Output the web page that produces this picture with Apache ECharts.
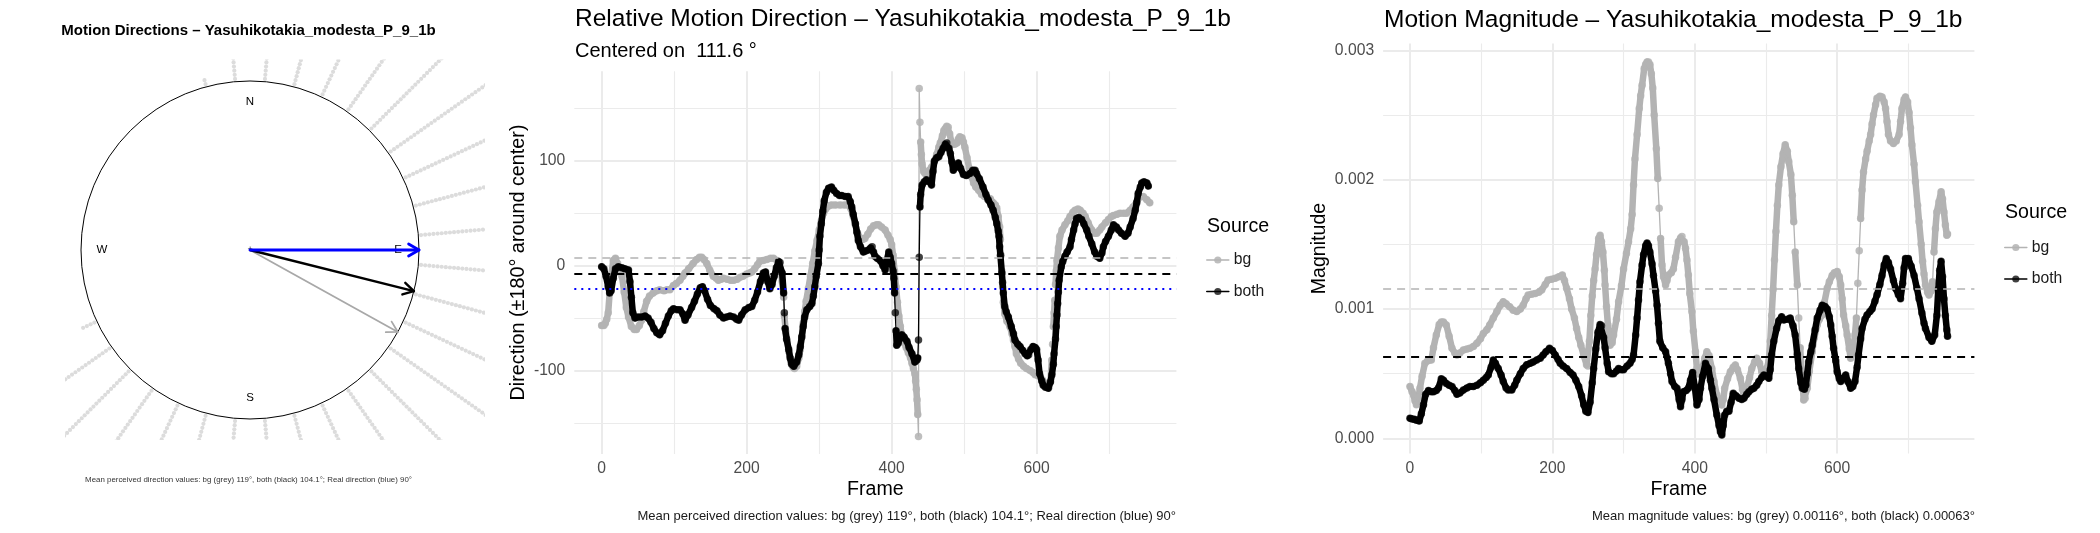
<!DOCTYPE html>
<html><head><meta charset="utf-8">
<script src="https://cdn.jsdelivr.net/npm/echarts@6/dist/echarts.min.js"></script>
<style>html,body{margin:0;padding:0;background:#fff}#c{width:2100px;height:533px}</style>
</head><body><div id="c"></div>
<script>
const FONT = 'Liberation Sans, Arial, Helvetica, sans-serif';
// ================= DATA =================
const speciesName = 'Yasuhikotakia_modesta_P_9_1b';
const meanDirBg = 119, meanDirBoth = 104.1, realDir = 90, centerDir = 111.6;
const meanMagBg = 0.00116, meanMagBoth = 0.00063;
const compassLabels = ['N', 'E', 'S', 'W'];
const compassLabelAngles = [0, 90, 180, 270];
const rayBins = [345,355,5,15,25,35,45,55,65,75,85,95,105,115,125,135,145,155,165,175,185,195,205,215,225,235,245];
const rayCounts = [2,12,20,25,35,40,45,60,70,75,80,70,95,110,85,60,55,75,95,70,45,50,45,35,30,22,4];
const frameTicks = [0, 200, 400, 600];
const frameMinorTicks = [100, 300, 500, 700];
const dirTicks = [-100, 0, 100];
const dirMinorTicks = [-150, -50, 50, 150];
const magTicks = [0, 0.001, 0.002, 0.003];
const magMinorTicks = [0.0005, 0.0015, 0.0025];

const dirBg = [[0,-57],[3,-57],[5,-55],[7,-51],[9,-45],[11,-26],[13,-10],[16,5],[19,7],[22,2],[25,-3],[28,-10],[31,-25],[34,-40],[37,-49],[41,-58],[45,-61],[48,-61],[52,-57],[55,-52],[58,-44],[62,-34],[66,-29],[71,-26],[76,-24],[80,-23],[86,-24],[90,-23],[94,-23],[99,-19],[103,-17],[108,-14],[112,-10],[115,-7],[120,-3],[126,2],[131,6],[135,8],[138,8],[141,6],[145,2],[149,-4],[154,-10],[158,-12],[161,-14],[165,-13],[168,-12],[173,-13],[178,-14],[182,-14],[187,-13],[191,-11],[195,-10],[200,-8],[204,-7],[207,-6],[211,-3],[215,1],[218,4],[223,5],[228,6],[233,7],[237,7],[242,5],[245,2],[247,-5],[249,-15],[251,-30],[252,-48],[254,-63],[256,-72],[258,-82],[261,-92],[264,-97],[266,-98],[269,-96],[272,-88],[274,-80],[276,-68],[278,-55],[280,-44],[282,-34],[285,-22],[288,-10],[291,2],[294,14],[297,24],[300,34],[303,43],[306,50],[309,54],[313,57],[317,58],[322,58],[329,58],[335,58],[340,58],[344,54],[347,47],[350,39],[353,31],[356,27],[360,25],[363,26],[367,30],[371,35],[375,38],[379,39],[382,39],[386,37],[391,34],[395,29],[398,25],[400,20],[402,10],[404,-5],[406,-20],[408,-35],[410,-48],[412,-58],[414,-66],[417,-73],[420,-78],[423,-83],[426,-88],[428,-93],[430,-98],[432,-103],[433,-110],[434,-118],[435,-128],[436,-142],[437,-163],[438,169],[439,137],[440,118],[441,106],[442,97],[444,90],[446,88],[448,88],[452,91],[455,94],[458,98],[462,106],[465,113],[467,117],[470,124],[472,129],[474,131],[476,133],[478,132],[480,126],[482,119],[484,116],[487,116],[490,117],[492,121],[494,123],[497,122],[499,118],[501,113],[504,103],[507,93],[510,85],[513,79],[516,75],[520,72],[524,68],[528,66],[532,65],[536,64],[540,60],[543,58],[545,55],[547,47],[549,37],[550,25],[551,10],[552,-5],[553,-20],[554,-35],[556,-46],[559,-53],[563,-58],[566,-65],[568,-71],[570,-77],[572,-84],[575,-89],[578,-93],[582,-96],[586,-98],[591,-100],[595,-102],[598,-104],[602,-105],[605,-106],[608,-109],[611,-112],[614,-115],[617,-116],[619,-110],[621,-90],[622,-75],[623,-58],[624,-45],[625,-33],[626,-18],[627,-5],[628,5],[630,17],[632,28],[635,34],[639,39],[643,43],[646,47],[650,51],[653,53],[657,54],[660,53],[664,50],[667,47],[671,41],[676,34],[680,31],[683,31],[687,34],[690,37],[695,41],[699,44],[703,47],[706,48],[711,49],[715,50],[720,50],[724,50],[729,53],[733,56],[738,61],[743,66],[747,66],[752,63],[756,60]];

const dirBoth = [[0,-1],[3,-3],[6,-10],[9,-20],[11,-26],[13,-24],[16,-12],[19,-3],[23,-1],[28,-2],[32,-3],[37,-4],[39,-15],[41,-30],[43,-45],[46,-50],[50,-49],[55,-49],[60,-48],[64,-50],[68,-54],[72,-60],[76,-64],[80,-66],[84,-62],[88,-55],[92,-48],[96,-43],[99,-41],[104,-42],[108,-42],[112,-46],[115,-52],[119,-47],[124,-40],[128,-34],[132,-27],[136,-21],[139,-20],[142,-24],[146,-32],[150,-38],[155,-41],[159,-43],[163,-47],[168,-50],[172,-49],[177,-48],[182,-49],[186,-51],[189,-52],[193,-47],[198,-42],[203,-40],[207,-39],[211,-33],[215,-25],[219,-15],[223,-7],[226,-6],[229,-15],[232,-22],[235,-18],[238,-10],[241,-2],[244,4],[246,3],[249,-7],[251,-26],[252,-45],[253,-60],[255,-70],[258,-80],[260,-88],[262,-94],[265,-96],[269,-92],[272,-85],[274,-77],[276,-68],[278,-58],[280,-49],[283,-42],[287,-39],[290,-36],[292,-29],[294,-20],[296,-10],[299,2],[300,15],[301,28],[303,40],[305,52],[307,62],[310,70],[313,74],[317,75],[320,72],[324,69],[328,67],[331,67],[336,66],[340,66],[343,61],[345,56],[347,49],[350,40],[352,32],[354,24],[357,18],[361,13],[364,14],[368,15],[371,17],[373,18],[375,13],[377,9],[380,7],[384,5],[388,0],[391,-4],[393,4],[396,13],[398,8],[400,2],[402,-5],[403,-12],[404,-26],[405,-45],[406,-62],[407,-76],[409,-74],[411,-70],[414,-66],[417,-68],[421,-72],[424,-78],[428,-84],[432,-92],[435,-90],[436,-88],[437,-71],[438,8],[439,56],[440,68],[442,77],[445,80],[448,82],[452,80],[455,77],[457,90],[459,100],[462,103],[465,104],[468,108],[471,112],[474,116],[476,117],[479,112],[481,107],[483,99],[485,91],[488,94],[492,98],[495,93],[499,87],[503,86],[508,88],[512,91],[515,91],[517,88],[521,83],[526,75],[530,68],[533,63],[537,58],[540,53],[543,46],[545,40],[547,33],[548,28],[549,18],[550,10],[552,-7],[553,-16],[554,-26],[556,-39],[558,-44],[561,-49],[565,-58],[568,-65],[570,-71],[574,-75],[577,-77],[581,-81],[584,-84],[587,-86],[589,-85],[592,-80],[595,-77],[598,-78],[600,-80],[602,-90],[604,-103],[607,-110],[609,-114],[612,-116],[616,-117],[619,-111],[621,-104],[623,-94],[624,-84],[626,-70],[627,-58],[628,-47],[629,-36],[630,-25],[631,-14],[634,-1],[636,4],[639,9],[642,13],[646,18],[648,25],[651,34],[653,40],[655,45],[658,46],[662,44],[665,40],[669,34],[672,28],[676,21],[680,13],[683,9],[687,7],[690,12],[692,18],[695,23],[699,28],[703,34],[706,39],[710,37],[713,34],[717,31],[722,28],[726,31],[729,37],[733,45],[736,53],[738,60],[740,69],[743,75],[745,79],[748,80],[752,79],[754,76]];

const magBg = [[0,0.000400],[3,0.000360],[5,0.000335],[7,0.000290],[9,0.000260],[12,0.000320],[14,0.000387],[17,0.000480],[21,0.000580],[25,0.000600],[30,0.000606],[33,0.000700],[37,0.000800],[41,0.000880],[44,0.000900],[47,0.000900],[51,0.000876],[55,0.000790],[59,0.000696],[63,0.000660],[66,0.000644],[70,0.000660],[75,0.000683],[80,0.000690],[84,0.000696],[89,0.000710],[94,0.000735],[99,0.000770],[103,0.000810],[108,0.000840],[112,0.000876],[117,0.000930],[122,0.000980],[127,0.001030],[131,0.001057],[135,0.001040],[140,0.001018],[145,0.000990],[150,0.000980],[155,0.001000],[159,0.001030],[163,0.001080],[166,0.001108],[171,0.001115],[176,0.001120],[181,0.001130],[185,0.001147],[190,0.001190],[194,0.001224],[199,0.001230],[204,0.001237],[209,0.001250],[214,0.001263],[217,0.001220],[220,0.001160],[224,0.001080],[227,0.001000],[231,0.000930],[234,0.000850],[237,0.000780],[240,0.000720],[244,0.000640],[248,0.000570],[250,0.000560],[252,0.000750],[254,0.000950],[256,0.001100],[258,0.001220],[260,0.001310],[262,0.001420],[265,0.001546],[267,0.001570],[269,0.001520],[271,0.001440],[273,0.001300],[274,0.001186],[276,0.001020],[278,0.000876],[281,0.000720],[284,0.000740],[286,0.000800],[290,0.000920],[293,0.001057],[297,0.001180],[300,0.001310],[304,0.001430],[307,0.001520],[310,0.001620],[312,0.001730],[314,0.001960],[316,0.002160],[319,0.002350],[322,0.002550],[324,0.002650],[326,0.002730],[329,0.002860],[331,0.002890],[333,0.002910],[335,0.002910],[337,0.002890],[339,0.002820],[341,0.002710],[343,0.002500],[346,0.002240],[348,0.002010],[350,0.001780],[352,0.001546],[354,0.001340],[356,0.001250],[359,0.001186],[361,0.001220],[363,0.001263],[367,0.001280],[370,0.001310],[373,0.001400],[377,0.001520],[380,0.001550],[382,0.001560],[385,0.001520],[387,0.001470],[389,0.001380],[391,0.001263],[393,0.001120],[396,0.000980],[398,0.000830],[401,0.000670],[403,0.000540],[406,0.000500],[408,0.000490],[411,0.000550],[414,0.000620],[417,0.000670],[420,0.000640],[424,0.000540],[427,0.000440],[431,0.000335],[434,0.000280],[438,0.000258],[440,0.000300],[442,0.000387],[446,0.000460],[450,0.000515],[454,0.000550],[457,0.000567],[460,0.000530],[464,0.000464],[467,0.000380],[469,0.000335],[473,0.000387],[477,0.000470],[480,0.000540],[484,0.000590],[487,0.000620],[491,0.000580],[494,0.000515],[498,0.000520],[501,0.000540],[504,0.000600],[506,0.000750],[508,0.000950],[510,0.001150],[512,0.001380],[514,0.001600],[516,0.001800],[518,0.001960],[521,0.002100],[524,0.002200],[527,0.002270],[530,0.002220],[532,0.002140],[535,0.002040],[537,0.001880],[539,0.001675],[541,0.001440],[544,0.001186],[546,0.000930],[548,0.000700],[551,0.000460],[553,0.000296],[555,0.000310],[558,0.000387],[561,0.000520],[565,0.000670],[568,0.000780],[572,0.000876],[575,0.000920],[579,0.000954],[582,0.001050],[586,0.001160],[589,0.001210],[593,0.001260],[596,0.001280],[600,0.001290],[603,0.001250],[605,0.001186],[607,0.001080],[609,0.000954],[612,0.000870],[614,0.000800],[617,0.000690],[619,0.000620],[621,0.000650],[623,0.000700],[625,0.000800],[627,0.000930],[629,0.001200],[631,0.001450],[633,0.001700],[635,0.001920],[637,0.002060],[640,0.002160],[642,0.002220],[645,0.002300],[647,0.002350],[649,0.002430],[651,0.002500],[654,0.002580],[656,0.002630],[660,0.002645],[663,0.002640],[666,0.002600],[668,0.002550],[670,0.002450],[672,0.002350],[675,0.002300],[679,0.002280],[683,0.002300],[687,0.002350],[689,0.002450],[691,0.002550],[694,0.002620],[696,0.002640],[699,0.002600],[701,0.002520],[703,0.002400],[705,0.002270],[708,0.002120],[710,0.001985],[713,0.001800],[715,0.001675],[718,0.001500],[720,0.001370],[722,0.001270],[724,0.001186],[727,0.001130],[729,0.001108],[732,0.001140],[734,0.001210],[736,0.001440],[738,0.001620],[740,0.001750],[743,0.001830],[746,0.001907],[748,0.001850],[750,0.001750],[752,0.001650],[754,0.001570],[755,0.001580]];

const magBoth = [[0,0.000155],[3,0.000150],[6,0.000148],[9,0.000140],[13,0.000134],[16,0.000190],[19,0.000260],[22,0.000340],[26,0.000370],[30,0.000360],[33,0.000360],[37,0.000370],[40,0.000390],[44,0.000460],[47,0.000450],[51,0.000425],[55,0.000410],[59,0.000400],[63,0.000370],[66,0.000340],[70,0.000350],[75,0.000374],[80,0.000390],[84,0.000400],[89,0.000400],[94,0.000410],[99,0.000430],[103,0.000450],[107,0.000470],[110,0.000490],[114,0.000550],[117,0.000606],[120,0.000580],[124,0.000540],[128,0.000490],[131,0.000440],[135,0.000390],[138,0.000374],[143,0.000374],[147,0.000410],[150,0.000450],[155,0.000500],[159,0.000540],[164,0.000570],[169,0.000580],[173,0.000590],[178,0.000606],[183,0.000620],[187,0.000644],[191,0.000670],[196,0.000696],[200,0.000680],[204,0.000644],[208,0.000610],[211,0.000580],[215,0.000560],[220,0.000540],[225,0.000510],[229,0.000490],[233,0.000450],[237,0.000400],[241,0.000330],[244,0.000260],[247,0.000210],[250,0.000200],[253,0.000280],[256,0.000430],[258,0.000540],[261,0.000690],[264,0.000820],[267,0.000880],[269,0.000870],[272,0.000780],[274,0.000700],[277,0.000580],[279,0.000515],[283,0.000500],[286,0.000500],[290,0.000520],[293,0.000540],[297,0.000530],[300,0.000530],[305,0.000560],[309,0.000580],[312,0.000610],[314,0.000644],[317,0.000800],[319,0.000930],[321,0.001070],[323,0.001210],[326,0.001340],[328,0.001420],[331,0.001490],[333,0.001510],[335,0.001490],[337,0.001440],[340,0.001350],[342,0.001260],[345,0.001140],[347,0.001030],[349,0.000890],[351,0.000750],[355,0.000700],[359,0.000670],[363,0.000580],[366,0.000500],[368,0.000440],[372,0.000400],[375,0.000387],[378,0.000300],[380,0.000245],[382,0.000300],[384,0.000360],[388,0.000370],[391,0.000387],[394,0.000450],[397,0.000510],[400,0.000400],[403,0.000258],[406,0.000300],[408,0.000387],[411,0.000480],[415,0.000580],[419,0.000540],[422,0.000450],[424,0.000387],[427,0.000300],[431,0.000180],[434,0.000100],[436,0.000050],[438,0.000026],[440,0.000100],[442,0.000180],[445,0.000210],[448,0.000210],[451,0.000280],[454,0.000348],[458,0.000330],[462,0.000310],[466,0.000300],[469,0.000310],[473,0.000340],[476,0.000360],[480,0.000380],[483,0.000387],[487,0.000410],[490,0.000440],[494,0.000470],[497,0.000490],[501,0.000480],[504,0.000464],[506,0.000530],[508,0.000644],[511,0.000750],[515,0.000850],[518,0.000910],[522,0.000940],[525,0.000915],[530,0.000920],[534,0.000930],[538,0.000870],[541,0.000800],[544,0.000650],[546,0.000540],[549,0.000430],[551,0.000387],[554,0.000380],[556,0.000410],[558,0.000500],[560,0.000593],[563,0.000670],[565,0.000720],[569,0.000840],[572,0.000930],[576,0.000990],[579,0.001030],[583,0.001020],[586,0.001000],[589,0.000940],[591,0.000876],[593,0.000790],[595,0.000696],[598,0.000600],[600,0.000515],[603,0.000460],[605,0.000440],[608,0.000460],[612,0.000490],[615,0.000440],[619,0.000387],[622,0.000400],[625,0.000440],[628,0.000550],[630,0.000644],[633,0.000770],[635,0.000850],[639,0.000920],[642,0.000954],[646,0.000980],[649,0.001000],[653,0.001060],[656,0.001110],[660,0.001190],[663,0.001260],[666,0.001340],[669,0.001390],[672,0.001360],[675,0.001310],[679,0.001220],[682,0.001160],[686,0.001110],[689,0.001080],[692,0.001200],[694,0.001320],[696,0.001390],[700,0.001390],[704,0.001330],[708,0.001260],[712,0.001160],[715,0.001080],[719,0.000970],[722,0.000890],[724,0.000850],[729,0.000780],[733,0.000750],[737,0.000800],[740,0.000950],[742,0.001150],[744,0.001300],[746,0.001370],[748,0.001250],[750,0.001080],[752,0.000950],[754,0.000840],[755,0.000790]];

// ================= STYLE / LAYOUT =================
const GREY = '#b3b3b3', GREY_PT = 'rgba(179,179,179,0.85)', BLACK = '#000', BLACK_PT = 'rgba(0,0,0,0.75)';
const GRID_C = '#ebebeb';
const arrowColors = ['#a8a8a8', '#000000', '#0000ff'];
const arrowWidths = [1.8, 2.4, 2.8];

function splitSteep(data, thr) {
  const out = [data[0]];
  for (let i = 1; i < data.length; i++) {
    const [x0, y0] = data[i - 1], [x1, y1] = data[i];
    if (Math.abs(y1 - y0) / (x1 - x0) > thr) out.push([(x0 + x1) / 2, '-']);
    out.push(data[i]);
  }
  return out;
}
const DIR_STEEP = 14, MAG_STEEP = 0.000115;

function gridLines(vMajor, vMinor, hMajor, hMinor) {
  const d = [];
  vMinor.forEach(v => d.push({xAxis: v, lineStyle: {color: GRID_C, width: 1.1, type: 'solid'}}));
  hMinor.forEach(v => d.push({yAxis: v, lineStyle: {color: GRID_C, width: 1.1, type: 'solid'}}));
  vMajor.forEach(v => d.push({xAxis: v, lineStyle: {color: GRID_C, width: 2, type: 'solid'}}));
  hMajor.forEach(v => d.push({yAxis: v, lineStyle: {color: GRID_C, width: 2, type: 'solid'}}));
  return {silent: true, symbol: ['none', 'none'], label: {show: false}, z: 1, precision: 10, animation: false, data: d};
}
function refLines(items) {
  return {silent: true, symbol: ['none', 'none'], label: {show: false}, z: 10, precision: 10, animation: false,
    data: items.map(([v, color, width, dash]) => ({yAxis: v, lineStyle: {color, width, type: dash}}))};
}

function panelSeries(xi, bg, both, thr, gl, rl) {
  const common = {type: 'line', xAxisIndex: xi, yAxisIndex: xi, animation: false, silent: true, connectNulls: false};
  return [
    Object.assign({}, common, {name: 'bg-link', data: bg, symbol: 'none', z: 2,
      lineStyle: {color: GREY, width: 1.3}, markLine: gl}),
    Object.assign({}, common, {name: 'bg', data: splitSteep(bg, thr), symbol: 'circle', symbolSize: 7.5, showSymbol: true, z: 3,
      itemStyle: {color: GREY_PT, borderWidth: 0}, lineStyle: {color: GREY, width: 6.5, cap: 'round', join: 'round'}}),
    Object.assign({}, common, {name: 'both-link', data: both, symbol: 'none', z: 4,
      lineStyle: {color: BLACK, width: 1.3}, markLine: rl}),
    Object.assign({}, common, {name: 'both', data: splitSteep(both, thr), symbol: 'circle', symbolSize: 7.5, showSymbol: true, z: 5,
      itemStyle: {color: BLACK_PT, borderWidth: 0}, lineStyle: {color: BLACK, width: 6.5, cap: 'round', join: 'round'}})
  ];
}

function txt(text, x, y, size, opts) {
  opts = opts || {};
  return {type: 'text', x, y, rotation: opts.rot || 0, silent: true, z: 20,
    style: {text, fontSize: size, fontFamily: FONT, fontWeight: opts.bold ? 'bold' : 'normal',
      fill: opts.color || '#000', align: opts.align || 'center', verticalAlign: 'middle'}};
}

const raysData = rayBins.map((a, i) => [a, rayCounts[i]]);
const arrowData = [[meanDirBg, 0], [meanDirBoth, 1], [realDir, 2]];
const labelData = compassLabelAngles.map((a, i) => [a, i]);

const dirCaption = `Mean perceived direction values: bg (grey) ${meanDirBg}°, both (black) ${meanDirBoth}°; Real direction (blue) ${realDir}°`;
const magCaption = `Mean magnitude values: bg (grey) ${meanMagBg}°, both (black) ${meanMagBoth}°`;

const axisLabelBase = {fontSize: 15.7, color: '#4d4d4d', fontFamily: FONT};
const hiddenAxisParts = {axisLine: {show: false}, axisTick: {show: false}, splitLine: {show: false}};
const frameFmt = v => frameTicks.includes(v) ? String(v) : '';

const legendBase = {data: ['bg', 'both'], orient: 'vertical', itemWidth: 22, itemHeight: 9, itemGap: 15.5,
  padding: 0, selectedMode: false, lineStyle: {width: 1.6},
  textStyle: {fontSize: 15.7, color: '#1a1a1a', fontFamily: FONT}};

const option = {
  animation: false,
  backgroundColor: '#fff',
  grid: [
    {left: 65, top: 59.5, width: 420, height: 380.5},
    {left: 574.3, top: 71.2, width: 602.1, height: 382.7},
    {left: 1383.1, top: 43.4, width: 591.3, height: 410.2}
  ],
  xAxis: [
    {gridIndex: 0, type: 'value', min: -1.0947, max: 1.3905, show: false},
    Object.assign({gridIndex: 1, type: 'value', min: -37.75, max: 792.75,
      axisLabel: Object.assign({}, axisLabelBase, {margin: 7, formatter: frameFmt, showMinLabel: false, showMaxLabel: false})}, hiddenAxisParts),
    Object.assign({gridIndex: 2, type: 'value', min: -37.75, max: 792.75,
      axisLabel: Object.assign({}, axisLabelBase, {margin: 7, formatter: frameFmt, showMinLabel: false, showMaxLabel: false})}, hiddenAxisParts)
  ],
  yAxis: [
    {gridIndex: 0, type: 'value', min: -1.1243, max: 1.1272, show: false},
    Object.assign({gridIndex: 1, type: 'value', min: -179.6, max: 185.6,
      axisLabel: Object.assign({}, axisLabelBase, {margin: 9, showMinLabel: false, showMaxLabel: false,
        formatter: v => dirTicks.includes(v) ? String(v) : ''})}, hiddenAxisParts),
    Object.assign({gridIndex: 2, type: 'value', min: -0.000118, max: 0.003054,
      axisLabel: Object.assign({}, axisLabelBase, {margin: 9, showMinLabel: false, showMaxLabel: false,
        formatter: v => magTicks.some(t => Math.abs(t - v) < 1e-9) ? v.toFixed(3) : ''})}, hiddenAxisParts)
  ],
  legend: [
    Object.assign({}, legendBase, {left: 1206, top: 252}),
    Object.assign({}, legendBase, {left: 2004, top: 239.5})
  ],
  graphic: [
    txt(`Motion Directions – ${speciesName}`, 248.5, 30.5, 15, {bold: true}),
    txt(dirCaption, 248.5, 480, 7.9, {color: '#333'}),
    txt(`Relative Motion Direction – ${speciesName}`, 575, 19.5, 24.5, {align: 'left'}),
    txt(`Centered on  ${centerDir} °`, 575, 51, 20, {align: 'left'}),
    txt('Direction (±180° around center)', 519, 262.5, 19.8, {rot: Math.PI / 2}),
    txt('Frame', 875.3, 490, 19.6),
    txt(dirCaption, 1176, 516, 13, {align: 'right', color: '#1a1a1a'}),
    txt('Source', 1207, 227, 19.6, {align: 'left'}),
    txt(`Motion Magnitude – ${speciesName}`, 1384, 20.4, 24.5, {align: 'left'}),
    txt('Magnitude', 1320, 248.5, 19.6, {rot: Math.PI / 2}),
    txt('Frame', 1678.8, 490, 19.6),
    txt(magCaption, 1975, 516, 13, {align: 'right', color: '#1a1a1a'}),
    txt('Source', 2005, 212.6, 19.6, {align: 'left'})
  ],
  series: [
    // --- compass panel ---
    {type: 'custom', name: 'rays', xAxisIndex: 0, yAxisIndex: 0, clip: true, silent: true, z: 1, data: raysData,
      renderItem: (params, api) => {
        const a = api.value(0) * Math.PI / 180, n = api.value(1);
        const children = [];
        for (let k = 0; k < n; k++) {
          const r = 1.016 + k * 0.0245;
          const p = api.coord([r * Math.sin(a), r * Math.cos(a)]);
          children.push({type: 'circle', shape: {cx: p[0], cy: p[1], r: 2.1}, style: {fill: '#dcdcdc'}});
        }
        return {type: 'group', children};
      }},
    {type: 'custom', name: 'circle', xAxisIndex: 0, yAxisIndex: 0, silent: true, z: 2, data: [[0, 0]],
      renderItem: (params, api) => {
        const c = api.coord([0, 0]), e = api.coord([1, 0]);
        return {type: 'group', children: [
          {type: 'circle', shape: {cx: c[0], cy: c[1], r: e[0] - c[0]}, style: {fill: 'none', stroke: '#000', lineWidth: 1}},
          {type: 'text', x: c[0], y: c[1], style: {text: '+', fontSize: 9, fill: '#333', align: 'center', verticalAlign: 'middle', fontFamily: FONT}}
        ]};
      }},
    {type: 'custom', name: 'compassLabels', xAxisIndex: 0, yAxisIndex: 0, silent: true, z: 2, data: labelData,
      renderItem: (params, api) => {
        const a = api.value(0) * Math.PI / 180;
        const p = api.coord([0.876 * Math.sin(a), 0.876 * Math.cos(a)]);
        return {type: 'text', x: p[0], y: p[1], style: {text: compassLabels[api.value(1)], fontSize: 11.5, fill: '#000',
          align: 'center', verticalAlign: 'middle', fontFamily: FONT}};
      }},
    {type: 'custom', name: 'arrows', xAxisIndex: 0, yAxisIndex: 0, silent: true, z: 3, data: arrowData,
      renderItem: (params, api) => {
        const a = api.value(0) * Math.PI / 180, idx = api.value(1);
        const s = api.coord([0, 0]), e = api.coord([Math.sin(a), Math.cos(a)]);
        const dx = s[0] - e[0], dy = s[1] - e[1], L = Math.hypot(dx, dy);
        const ux = dx / L, uy = dy / L, h = 12, t = Math.PI / 6;
        const w1 = [e[0] + h * (ux * Math.cos(t) - uy * Math.sin(t)), e[1] + h * (ux * Math.sin(t) + uy * Math.cos(t))];
        const w2 = [e[0] + h * (ux * Math.cos(-t) - uy * Math.sin(-t)), e[1] + h * (ux * Math.sin(-t) + uy * Math.cos(-t))];
        const st = {stroke: arrowColors[idx], lineWidth: arrowWidths[idx], fill: 'none', lineCap: 'round', lineJoin: 'round'};
        return {type: 'group', children: [
          {type: 'line', shape: {x1: s[0], y1: s[1], x2: e[0], y2: e[1]}, style: st},
          {type: 'polyline', shape: {points: [w1, e, w2]}, style: st}
        ]};
      }},
    // --- direction panel ---
    ...panelSeries(1, dirBg, dirBoth, DIR_STEEP,
      gridLines(frameTicks, frameMinorTicks, dirTicks, dirMinorTicks),
      refLines([[meanDirBg - centerDir, GREY, 1.5, [8, 6]], [meanDirBoth - centerDir, BLACK, 2, [8, 6]], [realDir - centerDir, '#0000ff', 2.2, [2, 5]]])),
    // --- magnitude panel ---
    ...panelSeries(2, magBg, magBoth, MAG_STEEP,
      gridLines(frameTicks, frameMinorTicks, magTicks, magMinorTicks),
      refLines([[meanMagBg, GREY, 1.5, [8, 6]], [meanMagBoth, BLACK, 2, [8, 6]]]))
  ]
};

const chart = echarts.init(document.getElementById('c'), null, {renderer: 'canvas', width: 2100, height: 533});
chart.setOption(option);
</script>
</body></html>
